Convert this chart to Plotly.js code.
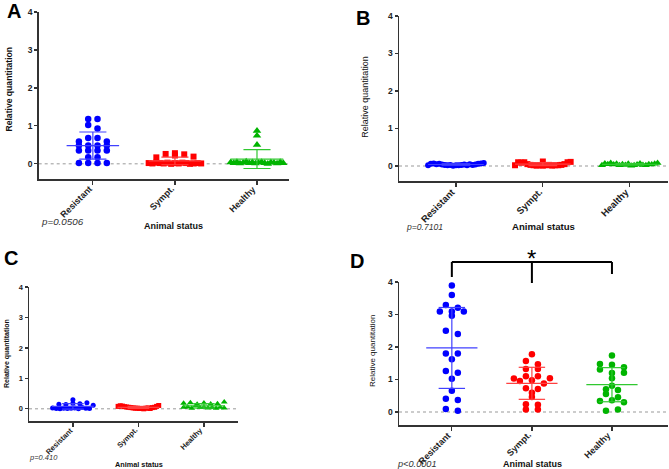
<!DOCTYPE html>
<html>
<head>
<meta charset="utf-8">
<script src="https://cdn.plot.ly/plotly-3.0.1.min.js"></script>
<style>html,body{margin:0;padding:0;background:#fff;}#chart{width:669px;height:469px;}</style>
</head>
<body>
<div id="chart"></div>
<script>
// ---------------- data ----------------
const categories = ['Resistant', 'Sympt.', 'Healthy'];

const aResistant = [1.18, 1.18, 1.02, 0.93, 0.59, 0.68, 0.68, 0.59, 0.48, 0.48, 0.48, 0.48, 0.35, 0.35, 0.35, 0.35, 0.17, 0.17, 0.02, 0.02, 0.02, 0.02];
const aSympt = [0.02, 0.01, 0.03, 0.17, 0.02, 0.26, 0.01, 0.22, 0.03, 0.28, 0.0, 0.25, 0.02, 0.19, 0.01, 0.03, 0.02, 0.0, 0.01, 0.02, 0.01];
const aHealthy = [0.87, 0.74, 0.50, 0.04, 0.02, 0.05, 0.01, 0.03, 0.06, 0.02, 0.04, 0.01, 0.03, 0.05, 0.02, 0.00, 0.04, 0.03, 0.01, 0.05, 0.02];

const bResistant = [0.02, 0.06, 0.07, 0.05, 0.06, 0.04, 0.03, 0.02, 0.03, 0.01, 0.02, 0.02, 0.03, 0.04, 0.02, 0.05, 0.03, 0.04, 0.06, 0.07, 0.08];
const bSympt = [0.02, 0.12, 0.10, 0.09, 0.10, 0.05, 0.03, 0.02, 0.01, 0.02, 0.01, 0.02, 0.03, 0.01, 0.02, 0.02, 0.03, 0.05, 0.10, 0.11];
const bHealthy = [0.02, 0.07, 0.05, 0.08, 0.04, 0.06, 0.02, 0.05, 0.03, 0.06, 0.01, 0.02, 0.04, 0.07, 0.03, 0.02, 0.05, 0.04, 0.06, 0.08];

const cResistant = [0.15, 0.03, 0.14, 0.01, 0.0, 0.18, 0.02, 0.30, 0.01, 0.02, 0.17, 0.03, 0.0, 0.20, 0.04, 0.02, 0.01, 0.12];
const cSympt = [0.08, 0.10, 0.09, 0.07, 0.06, 0.05, 0.04, 0.03, 0.02, 0.02, 0.01, 0.01, 0.0, 0.02, 0.03, 0.01, 0.04, 0.05, 0.08, 0.11];
const cHealthy = [0.05, 0.18, 0.20, 0.06, 0.15, 0.02, 0.10, 0.04, 0.19, 0.05, 0.16, 0.03, 0.04, 0.17, 0.02, 0.05, 0.22, 0.03];

const dResistant = [3.89, 3.60, 3.29, 3.21, 3.09, 3.09, 3.09, 2.96, 2.50, 2.40, 1.80, 1.80, 1.62, 1.26, 1.21, 1.02, 0.65, 0.41, 0.37, 0.09, 0.04];
const dSympt = [1.78, 1.57, 1.47, 1.32, 1.32, 1.03, 1.10, 0.95, 1.10, 0.98, 1.04, 0.88, 0.73, 0.71, 0.59, 0.46, 0.24, 0.22, 0.08, 0.08];
const dHealthy = [1.74, 1.48, 1.45, 1.38, 1.31, 1.20, 1.21, 1.04, 0.81, 0.70, 0.68, 0.55, 0.45, 0.34, 0.36, 0.30, 0.04, 0.08];

const pValues = ['p=0.0506', 'p=0.7101', 'p=0.410', 'p<0.0001'];
const panelLetters = ['A', 'B', 'C', 'D'];
const yTitle = 'Relative quantitation';
const xTitle = 'Animal status';
const yTicks = [0, 1, 2, 3, 4];

// ---------------- layout geometry ----------------
const W = 669, H = 469;
const px = v => v / W;
const py = v => 1 - v / H;
const FONT = 'Liberation Sans, Arial, sans-serif';

const panels = [
  {id: '', data: [aResistant, aSympt, aHealthy], symbols: ['circle', 'square', 'triangle-up'], sizes: [6.5, 6, 7.5],
   xdom: [38.7, 289], ydom: [179, 12], xr: [-0.66, 2.39], tick: 9, ytick: 8.5, s: 9.3, maxHalf: 0.32},
  {id: '2', data: [bResistant, bSympt, bHealthy], symbols: ['circle', 'square', 'triangle-up'], sizes: [6, 6, 7],
   xdom: [399, 668], ydom: [181, 16], xr: [-0.655, 2.44], tick: 9.5, ytick: 8.5, s: 9.3, maxHalf: 0.32},
  {id: '3', data: [cResistant, cSympt, cHealthy], symbols: ['circle', 'square', 'triangle-up'], sizes: [5, 5, 6],
   xdom: [29, 238], ydom: [421, 287], xr: [-0.67, 2.52], tick: 7.5, ytick: 7.5, s: 7, maxHalf: 0.31},
  {id: '4', data: [dResistant, dSympt, dHealthy], symbols: ['circle', 'circle', 'circle'], sizes: [6.5, 6.5, 6.5],
   xdom: [399, 668], ydom: [425, 282], xr: [-0.66, 2.7], tick: 9, ytick: 8.5, s: 12, maxHalf: 0.3}
];
const yr = [-0.4, 4];
const colors = ['#0000ff', '#ff0000', '#00b400'];
const barColors = ['#4040ff', '#ff4040', '#30c830'];

function mean(a) { return a.reduce((s, v) => s + v, 0) / a.length; }
function sd(a) { const m = mean(a); return Math.sqrt(a.reduce((s, v) => s + (v - m) * (v - m), 0) / (a.length - 1)); }

// row-based scatter layout (GraphPad-like)
function rowOffsets(vals, pxPerY, hbPx, sU, maxU) {
  const hb = hbPx / pxPerY;
  const order = vals.map((v, i) => i).sort((a, b) => vals[a] - vals[b] || a - b);
  const rows = []; let cur = null;
  for (const i of order) {
    if (!cur || vals[i] - vals[cur[0]] > hb) { cur = [i]; rows.push(cur); } else cur.push(i);
  }
  const off = new Array(vals.length).fill(0);
  rows.forEach(r => {
    r.sort((a, b) => a - b);
    const n = r.length;
    const step = n > 1 ? Math.min(sU, 2 * maxU / (n - 1)) : 0;
    r.forEach((i, k) => { off[i] = (k - (n - 1) / 2) * step; });
  });
  return off;
}

const traces = [];
const layout = {
  width: W, height: H, margin: {l: 0, r: 0, t: 0, b: 0},
  paper_bgcolor: '#fff', plot_bgcolor: 'rgba(0,0,0,0)', showlegend: false,
  shapes: [], annotations: []
};

panels.forEach(p => {
  const xa = 'xaxis' + p.id, ya = 'yaxis' + p.id;
  const xd = [px(p.xdom[0]), px(p.xdom[1])];
  const yd = [py(p.ydom[0]), py(p.ydom[1])];
  const pxPerX = (p.xdom[1] - p.xdom[0]) / (p.xr[1] - p.xr[0]);
  const pxPerY = (p.ydom[0] - p.ydom[1]) / (yr[1] - yr[0]);
  layout[xa] = {
    domain: xd, range: p.xr, anchor: 'y' + p.id, showgrid: false, zeroline: false,
    showline: true, linecolor: '#333', linewidth: 1.5, ticks: 'outside', ticklen: 4, tickwidth: 1.2, tickcolor: '#333',
    tickmode: 'array', tickvals: categories.map((c, i) => i), showticklabels: false, fixedrange: true
  };
  layout[ya] = {
    domain: yd, range: yr, anchor: 'x' + p.id, showgrid: false, zeroline: false,
    showline: true, linecolor: '#333', linewidth: 1.5, ticks: 'outside', ticklen: 3, tickwidth: 1.2, tickcolor: '#333',
    tickmode: 'array', tickvals: yTicks, ticktext: yTicks.map(String),
    tickfont: {family: FONT, size: p.ytick, color: '#222', weight: 700}, fixedrange: true
  };
  // dotted zero line
  layout.shapes.push({type: 'line', xref: 'x' + p.id + ' domain', yref: 'y' + p.id, x0: 0, x1: 1, y0: 0, y1: 0,
    line: {color: '#999', width: 1, dash: 'dot'}, layer: 'below'});

  // rotated category labels, ending at each tick
  categories.forEach((c, i) => {
    layout.annotations.push({xref: 'x' + p.id, yref: 'paper', x: i, xshift: 4, y: py(p.ydom[0] + 2),
      text: c, textangle: -45, showarrow: false, xanchor: 'right', yanchor: 'top',
      font: {family: FONT, size: p.tick, color: '#222', weight: 700}});
  });

  p.data.forEach((vals, gi) => {
    const off = rowOffsets(vals, pxPerY, 3.8, p.s / pxPerX, p.maxHalf);
    traces.push({
      type: 'scatter', mode: 'markers', xaxis: 'x' + p.id, yaxis: 'y' + p.id,
      x: vals.map((v, i) => gi + off[i]), y: vals,
      marker: {symbol: p.symbols[gi], size: p.sizes[gi], color: colors[gi], line: {width: 0}},
      hoverinfo: 'skip', cliponaxis: false
    });
    const m = mean(vals), s = sd(vals);
    const hw = 0.32, cw = 0.165;
    const lx = [gi - hw, gi + hw, null, gi, gi, null, gi - cw, gi + cw, null, gi - cw, gi + cw];
    const ly = [m, m, null, m - s, m + s, null, m + s, m + s, null, m - s, m - s];
    traces.push({
      type: 'scatter', mode: 'lines', xaxis: 'x' + p.id, yaxis: 'y' + p.id,
      x: lx, y: ly, line: {color: barColors[gi], width: 1.2}, hoverinfo: 'skip', connectgaps: false
    });
  });
});

// titles & annotations (paper positions)
const ann = (x, y, text, font, extra) => Object.assign({xref: 'paper', yref: 'paper', x: px(x), y: py(y), text: text,
  showarrow: false, xanchor: 'center', yanchor: 'middle', font: Object.assign({family: FONT, color: '#111'}, font)}, extra || {});

layout.annotations.push(
  ann(13.5, 11, panelLetters[0], {size: 20, weight: 700, color: '#000'}),
  ann(363, 18, panelLetters[1], {size: 20, weight: 700, color: '#000'}),
  ann(11, 258, panelLetters[2], {size: 20, weight: 700, color: '#000'}),
  ann(357, 261, panelLetters[3], {size: 20, weight: 700, color: '#000'}),

  ann(9, 89.5, yTitle, {size: 8.6, weight: 700}, {textangle: -90}),
  ann(365, 96.7, yTitle, {size: 9}, {textangle: -90}),
  ann(7, 354, yTitle, {size: 7, weight: 700}, {textangle: -90}),
  ann(372, 351, yTitle, {size: 8}, {textangle: -90}),

  ann(173, 226, xTitle, {size: 9, weight: 700}),
  ann(543, 226.5, xTitle, {size: 9.6, weight: 700}),
  ann(139, 464.5, xTitle, {size: 7.3, weight: 700}),
  ann(532, 463.5, xTitle, {size: 9, weight: 700}),

  ann(62, 221, pValues[0], {size: 9.8, style: 'italic', color: '#333'}),
  ann(424.5, 226.5, pValues[1], {size: 8.6, style: 'italic', color: '#333'}),
  ann(43.5, 457, pValues[2], {size: 7.5, style: 'italic', color: '#333'}),
  ann(416.7, 463.5, pValues[3], {size: 9.2, style: 'italic', color: '#333'})
);

// significance bracket in panel D
const bTop = py(262);
layout.shapes.push(
  {type: 'line', xref: 'x4', yref: 'paper', x0: 0, x1: 2, y0: bTop, y1: bTop, line: {color: '#000', width: 2}},
  {type: 'line', xref: 'x4', yref: 'paper', x0: 0, x1: 0, y0: bTop, y1: py(277), line: {color: '#000', width: 2}},
  {type: 'line', xref: 'x4', yref: 'paper', x0: 1, x1: 1, y0: bTop, y1: py(283), line: {color: '#000', width: 2}},
  {type: 'line', xref: 'x4', yref: 'paper', x0: 2, x1: 2, y0: bTop, y1: py(274), line: {color: '#000', width: 2}}
);
layout.annotations.push({xref: 'x4', yref: 'paper', x: 1, y: py(258), text: '*', showarrow: false,
  xanchor: 'center', yanchor: 'middle', font: {family: FONT, size: 24, color: '#000'}});

Plotly.newPlot('chart', traces, layout, {staticPlot: true, displayModeBar: false});
</script>
</body>
</html>
